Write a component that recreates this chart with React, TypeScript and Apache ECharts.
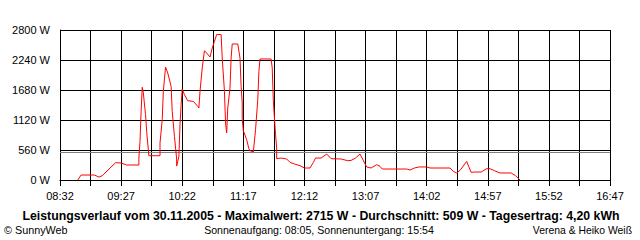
import React, { useEffect, useRef } from "react";
import * as echarts from "echarts";

const AXIS_START = "08:32";
const AXIS_END = "16:47";
const STEP_MIN = 27.5;

const TIMES = [
  "08:48","08:51","09:03","09:07","09:10","09:22","09:27","09:32","09:43",
  "09:43","09:44","09:45","09:46","09:47","09:49","09:50","09:52",
  "10:02","10:02","10:04","10:05","10:07","10:09","10:12","10:13","10:15","10:17","10:17",
  "10:19","10:20","10:21","10:22","10:24","10:27","10:32","10:36","10:37",
  "10:38","10:40","10:42","10:44","10:47","10:49","10:51","10:53","10:57",
  "10:58","11:00","11:01","11:02","11:03","11:05","11:06","11:07","11:12",
  "11:14","11:15","11:16","11:16","11:17","11:20","11:22","11:23","11:26",
  "11:28","11:30","11:31","11:32","11:42","11:43","11:44","11:45","11:46","11:47","11:47",
  "11:51","11:56","11:59","12:03","12:08","12:12","12:17","12:20","12:22","12:27",
  "12:32","12:36","12:45","12:51","12:54","12:58","13:02","13:08","13:12","13:17","13:20","13:22",
  "13:44","13:47","13:51","13:55","14:02","14:05","14:23","14:26","14:29","14:32","14:38",
  "14:42","14:45","14:51","14:56","14:59","15:03","15:08","15:18","15:22","15:26"
];

const WATTS = [
  0,93,93,56,80,323,317,280,280,
  410,720,1280,1730,1624,1219,907,453,
  453,690,1126,1654,2109,1997,1747,1280,814,392,260,
  441,1032,1405,1699,1592,1480,1467,1374,1344,
  1654,2090,2413,2370,2296,2464,2587,2715,2715,
  2277,1654,1064,877,1344,1717,2277,2539,2539,
  2277,1747,1437,1126,920,752,584,547,523,
  939,1499,2027,2259,2259,2090,1480,1157,846,597,398,
  410,392,329,299,267,224,224,329,410,410,
  485,398,392,360,366,410,485,243,224,286,254,205,
  205,187,224,243,243,224,224,162,131,180,347,
  143,149,149,211,211,174,131,131,80,0
];

const Y_MAX = 2800;
const Y_STEP = 560;
const AVERAGE_W = 509;

const TITLE = "Leistungsverlauf vom 30.11.2005 - Maximalwert: 2715 W - Durchschnitt: 509 W - Tagesertrag: 4,20 kWh";
const FOOT_LEFT = "© SunnyWeb";
const FOOT_CENTER = "Sonnenaufgang: 08:05, Sonnenuntergang: 15:54";
const FOOT_RIGHT = "Verena & Heiko Weiß";

const toMin = (s: string) => {
  const [h, m] = s.split(":").map(Number);
  return h * 60 + m;
};
const pad = (n: number) => (n < 10 ? "0" + n : "" + n);

export default function App() {
  const ref = useRef<HTMLDivElement>(null);
  useEffect(() => {
    document.body.style.margin = "0";
    if (!ref.current) return;
    const chart = echarts.init(ref.current, undefined, { renderer: "svg" });
    const start = toMin(AXIS_START);
    const end = toMin(AXIS_END);
    const data = TIMES.map((t, i) => [toMin(t) - start, WATTS[i]]);
    const font = "'Liberation Sans', Arial, sans-serif";
    chart.setOption({
      animation: false,
      backgroundColor: "#ffffff",
      grid: {
        left: 60,
        right: 30,
        top: 30,
        bottom: 60,
        containLabel: false,
        outerBoundsMode: "none",
      },
      xAxis: {
        type: "value",
        min: 0,
        max: end - start,
        interval: STEP_MIN,
        axisLine: { show: true, lineStyle: { color: "#000", width: 1 } },
        axisTick: { show: true, length: 6, lineStyle: { color: "#000", width: 1 } },
        splitLine: { show: true, lineStyle: { color: "#000", width: 1 } },
        axisLabel: {
          color: "#000",
          fontFamily: font,
          fontSize: 11,
          margin: 10,
          showMinLabel: true,
          showMaxLabel: true,
          formatter: (v: number) => {
            const k = Math.round(v / STEP_MIN);
            if (k % 2 !== 0) return "";
            const m = Math.round(start + v);
            return pad(Math.floor(m / 60)) + ":" + pad(m % 60);
          },
        },
      },
      yAxis: {
        type: "value",
        min: 0,
        max: Y_MAX,
        interval: Y_STEP,
        axisLine: { show: true, lineStyle: { color: "#000", width: 1 } },
        axisTick: { show: false },
        splitLine: { show: true, lineStyle: { color: "#000", width: 1 } },
        axisLabel: {
          color: "#000",
          fontFamily: font,
          fontSize: 11,
          margin: 10,
          formatter: (v: number) => v + " W",
        },
      },
      series: [
        {
          type: "line",
          data,
          showSymbol: false,
          symbol: "none",
          lineStyle: { color: "#ff0000", width: 1 },
          itemStyle: { color: "#ff0000" },
          markLine: {
            silent: true,
            symbol: ["none", "none"],
            label: { show: false },
            lineStyle: { color: "#808080", width: 1, type: "solid" },
            data: [{ yAxis: AVERAGE_W }],
          },
          z: 5,
        },
      ],
      graphic: [
        {
          type: "text",
          x: 321,
          y: 216,
          style: {
            text: TITLE,
            fill: "#000",
            font: "bold 12.3px " + font,
            textAlign: "center",
            textVerticalAlign: "middle",
          },
        },
        {
          type: "text",
          x: 4,
          y: 230,
          style: {
            text: FOOT_LEFT,
            fill: "#000",
            font: "10.8px " + font,
            textAlign: "left",
            textVerticalAlign: "middle",
          },
        },
        {
          type: "text",
          x: 319,
          y: 230,
          style: {
            text: FOOT_CENTER,
            fill: "#000",
            font: "10.6px " + font,
            textAlign: "center",
            textVerticalAlign: "middle",
          },
        },
        {
          type: "text",
          x: 632,
          y: 230,
          style: {
            text: FOOT_RIGHT,
            fill: "#000",
            font: "10.4px " + font,
            textAlign: "right",
            textVerticalAlign: "middle",
          },
        },
      ],
    });
    return () => chart.dispose();
  }, []);
  return <div ref={ref} style={{ width: 640, height: 240 }} />;
}
